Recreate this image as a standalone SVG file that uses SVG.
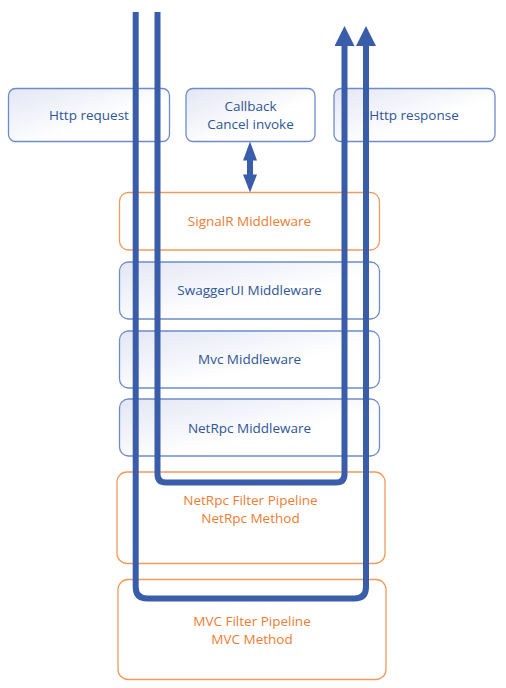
<svg xmlns="http://www.w3.org/2000/svg" width="506" height="688" viewBox="0 0 506 688">
<defs>
<linearGradient id="bg" x1="0" y1="0" x2="1" y2="1">
<stop offset="0" stop-color="#E3E6F4"/>
<stop offset="0.6" stop-color="#FFFFFF"/>
<stop offset="1" stop-color="#FFFFFF"/>
</linearGradient>
<marker id="head" viewBox="0 0 26 20" refX="0" refY="10" markerWidth="26" markerHeight="20" markerUnits="userSpaceOnUse" orient="auto">
<path d="M0,0 L20,10 L0,20 Z" fill="#3A5DAA"/>
</marker>
</defs>
<style>
.bx{fill:url(#bg);stroke:#6C8CCB;stroke-width:1.3}
.ob{fill:#FFFFFF;stroke:#F29A5C;stroke-width:1.3}
.bt{font-family:"Open Sans","Noto Sans",sans-serif;font-size:13.5px;fill:#2F5597;text-anchor:middle;dominant-baseline:central}
.ot{font-family:"Open Sans","Noto Sans",sans-serif;font-size:13.5px;fill:#ED7D31;text-anchor:middle;dominant-baseline:central}
.flow{fill:none;stroke:#3A5DAA;stroke-width:6}
</style>
<rect width="506" height="688" fill="#FFFFFF"/>
<g id="http-request"><rect class="bx" x="8.5" y="88.5" width="161" height="53" rx="7"/><text class="bt" x="89" y="115">Http request</text></g>
<g id="callback"><rect class="bx" x="186" y="88.5" width="129" height="53" rx="7"/><text class="bt" x="250.5" y="106">Callback</text><text class="bt" x="250.5" y="124">Cancel invoke</text></g>
<g id="http-response"><rect class="bx" x="334" y="88.5" width="161" height="53" rx="7"/><text class="bt" x="414" y="115">Http response</text></g>
<g id="signalr"><rect class="ob" x="119.5" y="192.5" width="260" height="57.5" rx="9"/><text class="ot" x="249.5" y="221">SignalR Middleware</text></g>
<g id="swaggerui"><rect class="bx" x="119.5" y="262" width="260" height="57" rx="9"/><text class="bt" x="249.5" y="290">SwaggerUI Middleware</text></g>
<g id="mvc-mw"><rect class="bx" x="119.5" y="331" width="260" height="57" rx="9"/><text class="bt" x="249.5" y="359">Mvc Middleware</text></g>
<g id="netrpc-mw"><rect class="bx" x="119.5" y="399" width="260" height="57" rx="9"/><text class="bt" x="249.5" y="427.5">NetRpc Middleware</text></g>
<g id="netrpc-filter"><rect class="ob" x="117" y="472" width="268" height="91.5" rx="10"/><text class="ot" x="250.5" y="499.5">NetRpc Filter Pipeline</text><text class="ot" x="250.5" y="517.5">NetRpc Method</text></g>
<g id="mvc-filter"><rect class="ob" x="118" y="579.5" width="268" height="100" rx="10"/><text class="ot" x="252" y="620.5">MVC Filter Pipeline</text><text class="ot" x="252" y="638.5">MVC Method</text></g>
<g id="connectors">
<polygon points="250,141.5 257,160.5 253,160.5 253,174.5 257,174.5 250,192.5 243,174.5 247,174.5 247,160.5 243,160.5" fill="#3A5DAA"/>
<path class="flow" d="M135.7,12 V587 Q135.7,598.5 147.2,598.5 H354.5 Q366,598.5 366,587 V46" marker-end="url(#head)"/>
<path class="flow" d="M157.5,12 V474 Q157.5,482.5 166,482.5 H336 Q344.5,482.5 344.5,474 V46" marker-end="url(#head)"/>
</g>
</svg>
